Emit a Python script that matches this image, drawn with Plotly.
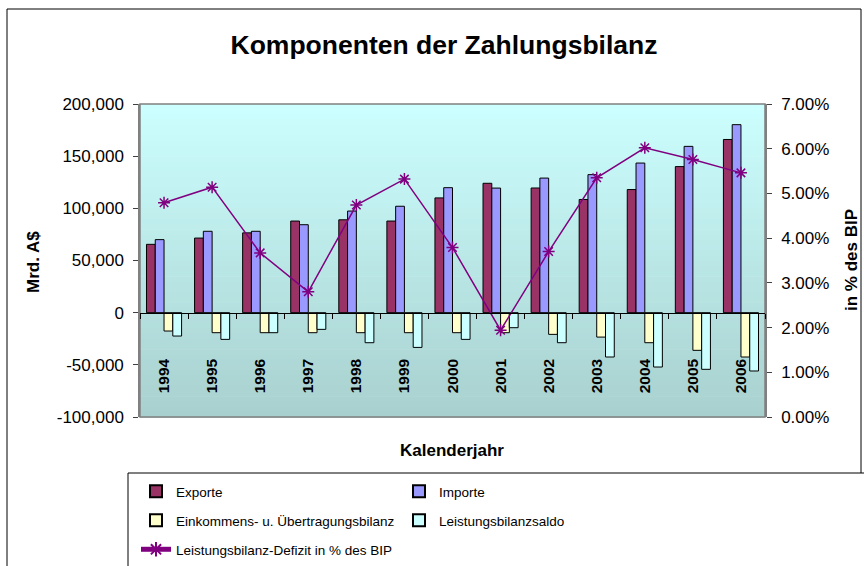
import plotly.graph_objects as go

# ---------------- data ----------------
years = ["1994", "1995", "1996", "1997", "1998", "1999", "2000",
         "2001", "2002", "2003", "2004", "2005", "2006"]
exporte = [65500, 71500, 76500, 87800, 89000, 87800, 110000,
           124000, 119500, 108500, 118000, 140000, 166000]
importe = [70000, 78000, 78000, 84300, 97400, 102000, 119800,
           119400, 129000, 132300, 143400, 159400, 180200]
einkommens = [-17600, -19200, -19200, -19200, -19200, -19200, -19200,
              -19200, -20800, -23400, -28800, -36100, -42500]
saldo = [-22400, -25600, -19200, -16000, -28800, -33300, -25600,
         -14400, -28800, -42500, -52100, -54300, -55900]
defizit_pct = [4.79, 5.14, 3.67, 2.80, 4.74, 5.32, 3.79,
               1.94, 3.70, 5.35, 6.02, 5.76, 5.46]

left_tickvals = [-100000, -50000, 0, 50000, 100000, 150000, 200000]
left_ticktext = ["-100,000", "-50,000", "0", "50,000", "100,000", "150,000", "200,000"]
right_tickvals = [0, 0.01, 0.02, 0.03, 0.04, 0.05, 0.06, 0.07]
right_ticktext = ["0.00%", "1.00%", "2.00%", "3.00%", "4.00%", "5.00%", "6.00%", "7.00%"]

# ---------------- layout constants ----------------
W, H = 864, 566
ML, MR, MT, MB = 140, 99, 104, 149
PW = W - ML - MR
PH = H - MT - MB
FONT = "Liberation Sans, Arial, sans-serif"


def px_x(px):
    return (px - ML) / PW


def px_y(py):
    return (H - MB - py) / PH


fig = go.Figure()

bar_line = dict(color="black", width=1)
fig.add_trace(go.Bar(x=years, y=exporte, name="Exporte", legend="legend",
                     marker=dict(color="#993366", line=bar_line)))
fig.add_trace(go.Bar(x=years, y=importe, name="Importe", legend="legend",
                     marker=dict(color="#9999FF", line=bar_line)))
fig.add_trace(go.Bar(x=years, y=einkommens, name="Einkommens- u. Übertragungsbilanz",
                     legend="legend2",
                     marker=dict(color="#FFFFCC", line=bar_line)))
fig.add_trace(go.Bar(x=years, y=saldo, name="Leistungsbilanzsaldo", legend="legend2",
                     marker=dict(color="#CCFFFF", line=bar_line)))
fig.add_trace(go.Scatter(x=years, y=[v / 100 for v in defizit_pct],
                         name="Leistungsbilanz-Defizit in % des BIP", legend="legend3",
                         yaxis="y2", mode="lines+markers",
                         line=dict(color="#800080", width=1.5),
                         marker=dict(symbol="asterisk-open", size=10,
                                     color="#800080",
                                     line=dict(color="#800080", width=1.5))))

# gradient background bands
shapes = []
N = 60
top = (204, 255, 255)
bot = (168, 208, 206)
for i in range(N):
    t = (i + 0.5) / N
    c = tuple(round(top[k] + (bot[k] - top[k]) * t) for k in range(3))
    shapes.append(dict(type="rect", xref="paper", yref="paper",
                       x0=0, x1=1, y0=1 - (i + 1) / N - 0.002, y1=1 - i / N,
                       fillcolor="rgb(%d,%d,%d)" % c, line=dict(width=0),
                       layer="below"))
# plot area border
shapes.append(dict(type="rect", xref="paper", yref="paper", x0=0, x1=1, y0=0, y1=1,
                   line=dict(color="#808080", width=1.5), layer="below"))
# outer chart border
shapes.append(dict(type="rect", xref="paper", yref="paper",
                   x0=px_x(7), x1=px_x(861), y0=px_y(600), y1=px_y(9),
                   line=dict(color="black", width=1), layer="above"))
# legend box
shapes.append(dict(type="rect", xref="paper", yref="paper",
                   x0=px_x(128), x1=px_x(880), y0=px_y(600), y1=px_y(473),
                   fillcolor="white", line=dict(color="black", width=1), layer="above"))

annotations = [
    dict(text="<b>Mrd. A$</b>", xref="paper", yref="paper", x=px_x(33), y=px_y(262),
         textangle=-90, showarrow=False, font=dict(size=17, family=FONT, color="black"),
         xanchor="center", yanchor="middle"),
    dict(text="<b>in % des BIP</b>", xref="paper", yref="paper", x=px_x(851), y=px_y(260),
         textangle=-90, showarrow=False, font=dict(size=17, family=FONT, color="black"),
         xanchor="center", yanchor="middle"),
    dict(text="<b>Kalenderjahr</b>", xref="paper", yref="paper", x=px_x(452), y=px_y(450),
         showarrow=False, font=dict(size=17, family=FONT, color="black"),
         xanchor="center", yanchor="middle"),
]

legend_common = dict(orientation="h", xanchor="left", yanchor="top",
                     bgcolor="rgba(0,0,0,0)", borderwidth=0,
                     font=dict(size=13.5, family=FONT, color="black"),
                     traceorder="normal", itemsizing="constant")

fig.update_layout(
    width=W, height=H,
    margin=dict(l=ML, r=MR, t=MT, b=MB, autoexpand=False),
    paper_bgcolor="white",
    plot_bgcolor="rgba(0,0,0,0)",
    font=dict(family=FONT, color="black", size=17),
    title=dict(text="<b>Komponenten der Zahlungsbilanz</b>", x=444 / W, xanchor="center",
               y=1 - 45 / H, yanchor="middle", yref="container",
               font=dict(size=26.5, family=FONT, color="black")),
    barmode="group", bargap=0.27, bargroupgap=0,
    showlegend=True,
    legend=dict(legend_common, x=px_x(136), y=px_y(476), entrywidth=218),
    legend2=dict(legend_common, x=px_x(136), y=px_y(505), entrywidth=218),
    legend3=dict(legend_common, x=px_x(136), y=px_y(534)),
    xaxis=dict(type="category", range=[-0.5, 12.5], anchor="free", position=1 / 3,
               showline=True, linecolor="black", linewidth=1,
               ticks="outside", ticklen=5, tickcolor="black", tickson="boundaries",
               tickangle=-90, ticklabelstandoff=39,
               tickfont=dict(size=15.5, family=FONT, color="black", weight="bold"),
               showgrid=False, zeroline=False, layer="above traces"),
    yaxis=dict(range=[-100000, 200000], tickvals=left_tickvals, ticktext=left_ticktext,
               showline=True, linecolor="#808080", linewidth=1.5,
               ticks="outside", ticklen=5, tickcolor="#404040",
               ticklabelstandoff=6,
               showgrid=False, zeroline=False,
               tickfont=dict(size=17, family=FONT, color="black")),
    yaxis2=dict(range=[0, 0.07], tickvals=right_tickvals, ticktext=right_ticktext,
                overlaying="y", side="right", anchor="x",
                showline=True, linecolor="#808080", linewidth=1.5,
                ticks="outside", ticklen=5, tickcolor="#404040",
                ticklabelstandoff=6,
                showgrid=False, zeroline=False,
                tickfont=dict(size=17, family=FONT, color="black")),
    shapes=shapes,
    annotations=annotations,
)

fig.write_html("out.html",
               config={"displayModeBar": False},
               post_script="document.body.style.margin='0';"
                           "document.body.style.overflow='hidden';")
